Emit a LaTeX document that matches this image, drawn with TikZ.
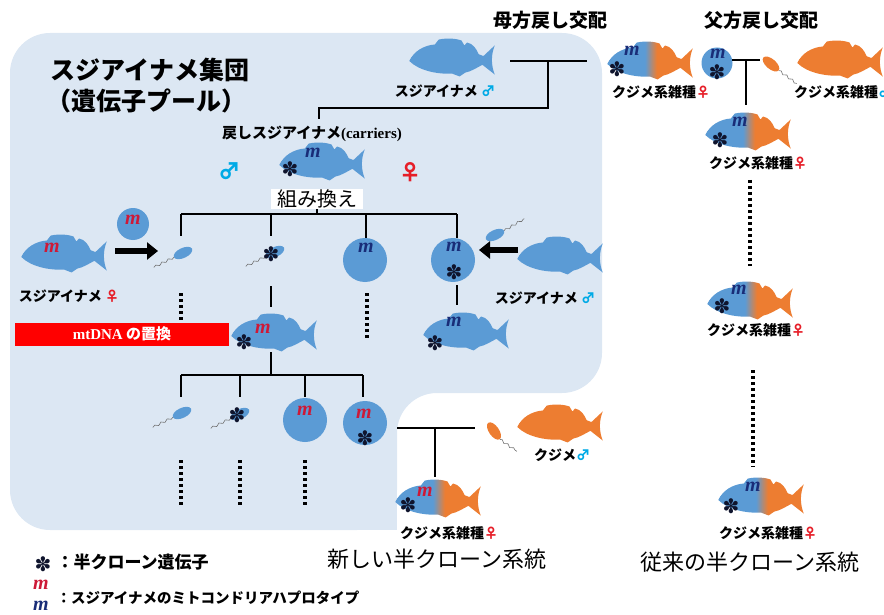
\documentclass[tikz,border=0pt]{standalone}
\usepackage{fontspec}
\newfontfamily\jp{Noto Sans CJK JP}
\newfontfamily\serifb{Liberation Serif}
\newfontfamily\symb{DejaVu Sans}
\usetikzlibrary{
  arrows.meta,
  shapes.geometric,
  decorations.pathmorphing
}
\definecolor{poolBlue}{RGB}{220,231,243}
\definecolor{fishBlue}{RGB}{91,155,213}
\definecolor{fishOrange}{RGB}{237,125,49}
\definecolor{mRed}{RGB}{205,25,55}
\definecolor{mNavy}{RGB}{25,45,120}
\definecolor{maleCyan}{RGB}{0,170,230}
\definecolor{femaleRed}{RGB}{230,30,40}
\definecolor{barRed}{RGB}{255,0,0}
\definecolor{starInk}{RGB}{15,20,45}

% head blue, tail orange
\pgfdeclarehorizontalshading{hybridfish}{100bp}{color(0bp)=(fishBlue); color(47bp)=(fishBlue); color(54bp)=(fishOrange); color(100bp)=(fishOrange)}

% fish facing left, centre at (0,0), y downwards
\newcommand{\fishOutline}{(-45,2) .. controls (-40,-8) and (-30,-14) .. (-18,-15)
  -- (-14,-20) .. controls (-5,-22) and (5,-21) .. (10,-19)
  -- (13,-14) -- (16,-17) .. controls (22,-16) and (26,-10) .. (28,-5)
  -- (33,-3) -- (45,-14) .. controls (41,-4) and (41,6) .. (45,16)
  -- (32,6) .. controls (26,9) and (20,13) .. (14,14) -- (8,18) -- (0,15)
  .. controls (-15,16) and (-35,12) .. (-45,2) -- cycle}
\newcommand{\fish}[3]{\coordinate (#1) at #2;
  \path[#3, shift={#2}, xscale=0.95, yscale=0.97] \fishOutline;}
\newcommand{\mMark}[3]{\node[mMark, text=#3] (#1) at #2 {m};}
\newcommand{\starMark}[2]{\node[starMark] (#1) at #2 {✽};}
\newcommand{\male}{{\color{maleCyan}♂}}
\newcommand{\female}{{\color{femaleRed}♀}}

\tikzset{
  treeLine/.style={line width=2.6pt},
  dotLine/.style={line width=3.5pt, dash pattern=on 3pt off 3pt},
  bigArrow/.style={line width=6pt, -{Triangle[length=11pt, width=17pt]}},
  egg/.style={circle, fill=fishBlue, inner sep=0pt, minimum size=44pt},
  sperm/.style={ellipse, fill=fishBlue, inner sep=0pt,
    minimum width=20pt, minimum height=10pt},
  spermTail/.style={black!55, line width=0.6pt, decorate,
    decoration={snake, amplitude=1.1pt, segment length=7pt}},
  hybrid/.style={shade, shading=hybridfish},
  mMark/.style={font=\serifb\bfseries\itshape\fontsize{20}{20}\selectfont,
    inner sep=0pt},
  starMark/.style={font=\symb\fontsize{20}{20}\selectfont, text=starInk,
    inner sep=0pt},
  fishLabel/.style={font=\jp\bfseries\fontsize{14}{16}\selectfont},
  titleText/.style={font=\jp\bfseries\fontsize{25}{28}\selectfont},
  headText/.style={font=\jp\bfseries\fontsize{19}{22}\selectfont},
  lineText/.style={font=\jp\fontsize{22}{24}\selectfont},
  sexMark/.style={font=\jp\bfseries\fontsize{22}{22}\selectfont}
}

\begin{document}
\begin{tikzpicture}[x=1pt, y=-1pt]
  \useasboundingbox (0,0) rectangle (884,615);
  \clip (0,0) rectangle (884,615);

  % gene pool
  \fill[poolBlue, rounded corners=40pt] (10,33) -- (602,33) -- (602,393)
    -- (397,393) -- (397,530) -- (10,530) -- cycle;
  \fill[poolBlue] (356,489) rectangle (397,530);
  \node[titleText] (pool) at (150,70) {スジアイナメ集団};
  \node[titleText] (poolSub) at (146,101) {（遺伝子プール）};

  \node[headText] (matBack) at (550,20) {母方戻し交配};
  \node[headText] (patBack) at (761,20) {父方戻し交配};

  % maternal backcross
  \fish{sujiTop}{(452,59)}{fill=fishBlue}
  \node[fishLabel] (sujiTopLab) at (445,91) {スジアイナメ \male};
  \coordinate (tA) at (510,61);
  \coordinate (tB) at (587,61);
  \coordinate (tC) at (548,108);
  \coordinate (tD) at (319,108);
  \coordinate (tE) at (319,119);
  \draw[treeLine] (tA) -- (tB);
  \draw[treeLine] (tA -| tC) -- (tC) -- (tD) -- (tE);

  \node[fishLabel, font=\jp\bfseries\fontsize{15}{17}\selectfont] (carLab)
    at (312,134) {戻しスジアイナメ{\serifb(carriers)}};
  \node[sexMark, text=maleCyan] (carMale) at (229,171) {♂};
  \node[sexMark, text=femaleRed] (carFemale) at (410,172) {♀};
  \fish{carrier}{(322,163)}{fill=fishBlue}
  \mMark{carM}{(313,153)}{mNavy}
  \starMark{carS}{(290,169)}
  \node[lineText, fill=white, inner xsep=6pt, inner ysep=1pt, font=\jp\fontsize{20}{22}\selectfont]
    (cross) at (317,199) {組み換え};

  % first generation
  \foreach \n/\x in {1/181, 2/271, 3/366, 4/457}
    \coordinate (g\n) at (\x,214);
  \draw[treeLine] (cross.south) -- (cross.south |- g1);
  \draw[treeLine] (g1) -- (g4);
  \coordinate (e1) at (181,236);
  \coordinate (e2) at (271,236);
  \coordinate (e3) at (366,239);
  \coordinate (e4) at (457,238);
  \foreach \n in {1,...,4}
    \draw[treeLine] (g\n) -- (e\n);

  \node[sperm, rotate=25] (sp1) at (183,253) {};
  \draw[spermTail] (sp1.west) -- ++(-20,10);
  \node[sperm, rotate=25] (sp2) at (275,252) {};
  \draw[spermTail] (sp2.west) -- ++(-20,10);
  \starMark{sp2S}{(271,254)}
  \node[egg] (egg1) at (365,260) {};
  \mMark{egg1M}{(366,248)}{mNavy}
  \node[egg] (egg2) at (453,260) {};
  \mMark{egg2M}{(454,247)}{mNavy}
  \starMark{egg2S}{(454,272)}

  % female Sujiainame
  \node[egg, minimum size=32pt] (eggL) at (133,224) {};
  \mMark{eggLM}{(133,220)}{mRed}
  \coordinate (arL1) at (115,251);
  \coordinate (arL2) at (158,251);
  \draw[bigArrow] (arL1) -- (arL2);
  \fish{sujiF}{(64,255)}{fill=fishBlue}
  \mMark{sujiFM}{(52,248)}{mRed}
  \node[fishLabel] (sujiFLab) at (69,296) {スジアイナメ \female};

  % male Sujiainame
  \node[sperm, rotate=25] (spR) at (495,235) {};
  \draw[spermTail] (spR.east) -- ++(20,-12);
  \coordinate (arR1) at (518,250);
  \coordinate (arR2) at (479,250);
  \draw[bigArrow] (arR1) -- (arR2);
  \fish{sujiM}{(560,257)}{fill=fishBlue}
  \node[fishLabel] (sujiMLab) at (545,298) {スジアイナメ \male};

  \node[fill=barRed, text=white, minimum width=214pt, minimum height=23pt,
    inner sep=0pt, font=\jp\bfseries\fontsize{15}{17}\selectfont]
    (mtSwap) at (122,334) {{\serifb mtDNA} の置換};
  \coordinate (d1) at (181,293);
  \draw[dotLine] (d1) -- (d1 |- mtSwap.north);
  \coordinate (d2) at (271,286);
  \draw[treeLine] (d2) -- ++(0,21);
  \coordinate (d3) at (367,293);
  \draw[dotLine] (d3) -- ++(0,45);
  \coordinate (d4) at (457,285);
  \draw[treeLine] (d4) -- ++(0,20);

  \fish{recF}{(274,334)}{fill=fishBlue}
  \mMark{recFM}{(263,329)}{mRed}
  \starMark{recFS}{(244,342)}
  \fish{recM}{(466,333)}{fill=fishBlue}
  \mMark{recMM}{(454,322)}{mNavy}
  \starMark{recMS}{(435,343)}

  % second generation
  \foreach \n/\x in {5/181, 6/240, 7/305, 8/363}
    \coordinate (g\n) at (\x,375);
  \draw[treeLine] (271,352) -- (271,375);
  \draw[treeLine] (g5) -- (g8);
  \foreach \n in {5,...,8}
    \draw[treeLine] (g\n) -- ++(0,22);

  \node[sperm, rotate=25] (sp3) at (182,413) {};
  \draw[spermTail] (sp3.west) -- ++(-20,10);
  \node[sperm, rotate=25] (sp4) at (240,414) {};
  \draw[spermTail] (sp4.west) -- ++(-20,10);
  \starMark{sp4S}{(237,415)}
  \node[egg] (egg3) at (305,420) {};
  \mMark{egg3M}{(305,411)}{mRed}
  \node[egg] (egg4) at (365,423) {};
  \mMark{egg4M}{(364,414)}{mRed}
  \starMark{egg4S}{(365,438)}
  \foreach \x in {181, 240, 305}
    \draw[dotLine] (\x,460) -- (\x,507);

  % new hemiclonal line
  \coordinate (nA) at (397,428);
  \coordinate (nB) at (475,428);
  \coordinate (nC) at (435,477);
  \draw[treeLine] (nA) -- (nB);
  \draw[treeLine] (nA -| nC) -- (nC);
  \node[sperm, fill=fishOrange, rotate=-55] (spK) at (494,431) {};
  \draw[spermTail] (spK.east) -- ++(17,12);
  \fish{kujime}{(560,425)}{fill=fishOrange}
  \node[fishLabel] (kujimeLab) at (562,455) {クジメ\male};
  \fish{newHyb}{(438,500)}{hybrid}
  \mMark{newHybM}{(425,492)}{mRed}
  \starMark{newHybS}{(408,505)}
  \node[fishLabel] (newHybLab) at (449,533) {クジメ系雑種\female};
  \node[lineText] (newLine) at (437,559) {新しい半クローン系統};

  % paternal backcross
  \fish{hyb1}{(650,62)}{hybrid}
  \mMark{hyb1M}{(632,51)}{mNavy}
  \starMark{hyb1S}{(617,69)}
  \node[fishLabel] (hyb1Lab) at (661,92) {クジメ系雑種\female};
  \node[egg, minimum size=31pt] (eggP) at (717,63) {};
  \mMark{eggPM}{(718,54)}{mNavy}
  \starMark{eggPS}{(717,72)}
  \coordinate (pA) at (732,60);
  \coordinate (pB) at (760,60);
  \coordinate (pC) at (746,105);
  \draw[treeLine] (pA) -- (pB);
  \draw[treeLine] (pA -| pC) -- (pC);
  \node[sperm, fill=fishOrange, rotate=-40] (spP) at (771,64) {};
  \draw[spermTail] (spP.east) -- ++(18,13);
  \fish{kujimeP}{(840,61)}{fill=fishOrange}
  \node[fishLabel] (kujimePLab) at (843,92) {クジメ系雑種\male};

  \fish{hyb2}{(748,133)}{hybrid}
  \mMark{hyb2M}{(740,122)}{mNavy}
  \starMark{hyb2S}{(720,140)}
  \node[fishLabel] (hyb2Lab) at (758,163) {クジメ系雑種\female};
  \draw[dotLine] (750,180) -- (750,266);
  \fish{hyb3}{(750,302)}{hybrid}
  \mMark{hyb3M}{(739,290)}{mNavy}
  \starMark{hyb3S}{(722,306)}
  \node[fishLabel] (hyb3Lab) at (756,330) {クジメ系雑種\female};
  \draw[dotLine] (753,370) -- (753,467);
  \fish{hyb4}{(761,498)}{hybrid}
  \mMark{hyb4M}{(753,487)}{mNavy}
  \starMark{hyb4S}{(731,506)}
  \node[fishLabel] (hyb4Lab) at (768,533) {クジメ系雑種\female};
  \node[lineText] (oldLine) at (750,562) {従来の半クローン系統};

  % legend
  \starMark{keyS}{(43,564)}
  \node[fishLabel, anchor=west, font=\jp\bfseries\fontsize{17}{19}\selectfont]
    (keySText) at (53,562) {：半クローン遺伝子};
  \mMark{keyM1}{(41,585)}{mRed}
  \mMark{keyM2}{(41,606)}{mNavy}
  \node[fishLabel, anchor=west, font=\jp\bfseries\fontsize{14.5}{17}\selectfont]
    (keyMText) at (53,598) {：スジアイナメのミトコンドリアハプロタイプ};
\end{tikzpicture}
\end{document}
